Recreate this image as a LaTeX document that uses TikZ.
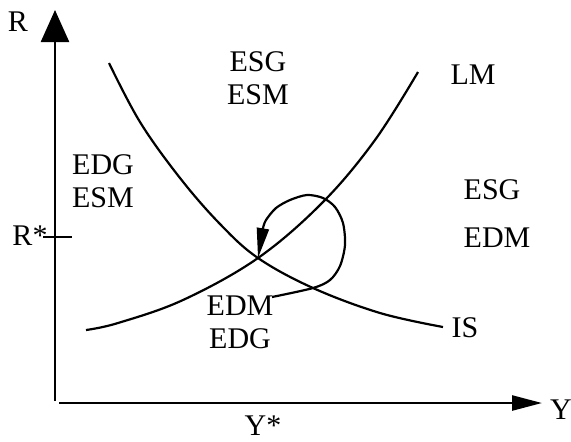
\documentclass[tikz,border=0pt]{standalone}
\usepackage{fontspec}
\setmainfont{Liberation Serif}
\usetikzlibrary{arrows.meta, positioning}
\tikzset{
  axis/.style  = {line width=1.25pt, draw=black},
  curve/.style = {line width=1.1pt, draw=black},
  lbl/.style   = {font=\fontsize{15}{16.5}\selectfont, inner sep=0pt, align=center},
  bigtip/.style= {-{Triangle[length=16pt, width=14pt]}},
  ytip/.style  = {-{Triangle[length=15pt, width=7.5pt]}},
  looptip/.style={-{Triangle[length=15pt, width=6pt]}},
}

\begin{document}
\begin{tikzpicture}[x=0.5pt, y=-0.5pt]
\useasboundingbox (0,0) rectangle (571,441);
% axes
\coordinate (o1) at (55,401);
\coordinate (rtop) at (55,10);
\coordinate (o2) at (59,403);
\coordinate (yend) at (542,403);
\draw[axis, bigtip] (o1) -- (rtop);
\draw[axis, ytip] (o2) -- (yend);
\coordinate (t1) at (43,237);
\coordinate (t2) at (72,237);
\draw[axis] (t1) -- (t2);
\node[lbl] (rlab) at (18,22) {R};
\node[lbl] (ylab) at (561,410) {Y};
\node[lbl] (rstar) at (30,236) {R*};
\node[lbl] (ystar) at (263,426) {Y*};
% equilibrium
\coordinate (eq) at (258,258);
% LM and IS
\draw[curve] plot[smooth, tension=0.6] coordinates
  {(86,330) (118,323) (183,300) (eq) (323,202) (375,140) (418,72)};
\draw[curve] plot[smooth, tension=0.6] coordinates
  {(109,63) (140,122) (180,178) (220,224) (eq) (313,288) (380,313) (443,327)};
\node[lbl] (lm) at (473,75) {LM};
\node[lbl] (is) at (465,328) {IS};
% adjustment path
\draw[curve, looptip] plot[smooth, tension=0.5] coordinates
  {(272,297) (313,288) (330,280) (340,266) (345,245) (343,223) (335,207)
   (323,198) (307,195) (290,200) (276,208) (266,220) (263,228)} -- (eq);
% regions
\node[lbl] (nreg) at (258,78) {ESG\\ESM};
\node[lbl] (wreg) at (103,181) {EDG\\ESM};
\node[lbl] (ereg1) at (492,190) {ESG};
\node[lbl] (ereg2) at (497,238) {EDM};
\node[lbl] (sreg) at (240,322) {EDM\\EDG};
\end{tikzpicture}
\end{document}
